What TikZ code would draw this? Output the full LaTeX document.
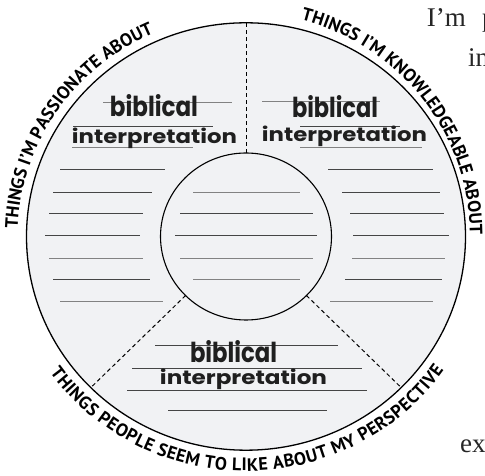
\documentclass[tikz,border=0pt]{standalone}
\usepackage{fontspec}
\setmainfont{Liberation Serif}
\newfontfamily\labfont{PT Sans}
\newfontfamily\handfont{Poppins}
\usetikzlibrary{decorations.text}
\definecolor{fillgrey}{HTML}{F1F2F4}
\definecolor{linedark}{HTML}{454545}
\definecolor{linegrey}{HTML}{828282}
\newcommand\labtxt{\labfont\bfseries\fontsize{18}{18}\selectfont}
\begin{document}
\begin{tikzpicture}[x=1pt,y=1pt,
  dline/.style={line width=1pt, draw=linedark},
  gline/.style={line width=1pt, draw=linegrey},
  divider/.style={draw=black, line width=1pt, dash pattern=on 4pt off 3pt},
  hand/.style={anchor=base, inner sep=0pt, text=black!88},
  pagetext/.style={anchor=base west, inner sep=0pt, font=\fontsize{27}{30}\selectfont, text=black!85},
]
\useasboundingbox (0,0) rectangle (485,476);
\coordinate (c) at (246,239.5);
% discs
\fill[fillgrey] (c) ellipse[x radius=219.5, y radius=213.7];
\draw[line width=1.3pt] (c) ellipse[x radius=219.5, y radius=213.7];
\draw[line width=1.1pt] (c) ellipse[x radius=85.5, y radius=83.5];
% divider end points
\path (c) ++(90:85.5 and 83.5) coordinate (i90);
\path (c) ++(90:219.5 and 213.7) coordinate (o90);
\path (c) ++(225:85.5 and 83.5) coordinate (i225);
\path (c) ++(225:219.5 and 213.7) coordinate (o225);
\path (c) ++(315:85.5 and 83.5) coordinate (i315);
\path (c) ++(315:219.5 and 213.7) coordinate (o315);
\draw[divider] (i90) -- (o90);
\draw[divider] (i225) -- (o225);
\draw[divider] (i315) -- (o315);
% writing lines: y / x1 / x2 / style
\foreach \yy/\xa/\xb/\st in {
  373.7/103/232/gline, 349.3/73/213/dline, 328.3/72/193/gline,
  306.7/60/165/dline, 283.7/53/152/dline, 262/49/143/dline, 240/45/140/dline,
  217.7/49/143/gline, 196/53/150/dline, 174.3/60/163/gline,
  283.7/193/300/gline, 262/180/313/dline, 240/175/317/dline, 217.7/180/313/gline, 196/193/300/gline,
  374.3/262/380/gline, 349.3/300/400/dline, 328.3/300/422/gline,
  306.7/328/433/dline, 283.7/342/440/dline, 262/350/444/dline, 240/353/449/dline,
  217.7/352/445/gline, 196/345/442/dline, 174.3/330/433/gline,
  130/155/338/dline, 107.7/132/362/dline, 85.3/127/367/dline, 65.3/168/327/dline}
  \draw[\st] (\xa,\yy) -- (\xb,\yy);
% hand lettering
\node[hand] (ulb) at (154,359.3) {\resizebox{88pt}{22pt}{\handfont\bfseries biblical}};
\node[hand] (uli) at (154.5,332.7) {\resizebox{165pt}{15.5pt}{\handfont\bfseries interpretation}};
\node[hand] (urb) at (335,358.3) {\resizebox{86pt}{22pt}{\handfont\bfseries biblical}};
\node[hand] (uri) at (344.5,334.3) {\resizebox{165pt}{15.5pt}{\handfont\bfseries interpretation}};
\node[hand] (bb) at (233.5,113.3) {\resizebox{87pt}{22pt}{\handfont\bfseries biblical}};
\node[hand] (bi) at (243.5,91) {\resizebox{167pt}{15.5pt}{\handfont\bfseries interpretation}};
% curved labels
\path[decorate, decoration={text along path, text align={fit to path},
  text={|\labtxt|THINGS I’M PASSIONATE ABOUT}}]
  (c) ++(178:228.5 and 222) arc[start angle=178, end angle=115, x radius=228.5, y radius=222];
\path[decorate, decoration={text along path, text align={fit to path},
  text={|\labtxt|THINGS I’M KNOWLEDGEABLE ABOUT}}]
  (c) ++(75.8:224 and 223.4) arc[start angle=75.8, end angle=0.5, x radius=224, y radius=223.4];
\path[decorate, decoration={text along path, text align={fit to path},
  text={|\labtxt|THINGS PEOPLE SEEM TO LIKE ABOUT MY PERSPECTIVE}}]
  (c) ++(215.5:240.8 and 234.5) arc[start angle=215.5, end angle=325.3, x radius=240.8, y radius=234.5];
% page text fragments
\node[pagetext] (p1) at (426.7,449.3) {I’m};
\node[pagetext] (p2) at (482,449.3) {p};
\node[pagetext] (p3) at (468,409.3) {in};
\node[pagetext] (p4) at (460,23) {ex};
\end{tikzpicture}
\end{document}
